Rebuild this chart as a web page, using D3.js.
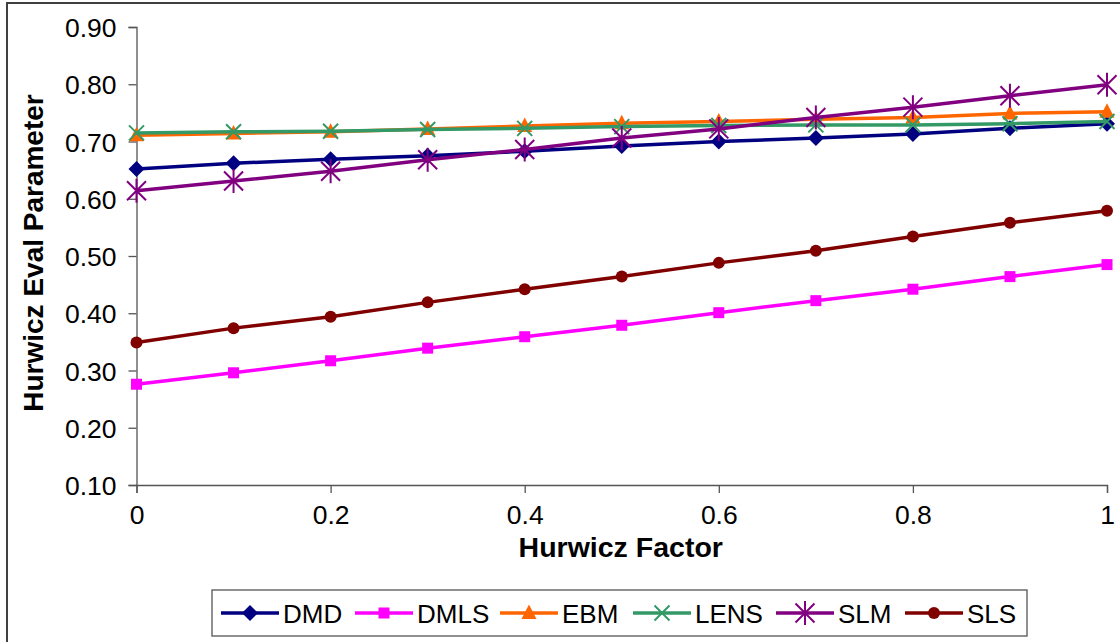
<!DOCTYPE html>
<html>
<head>
<meta charset="utf-8">
<script src="https://cdn.jsdelivr.net/npm/d3@7"></script>
<style>
  body { margin: 0; background: #fff; }
  svg { display: block; font-family: "Liberation Sans", Arial, Helvetica, sans-serif; }
</style>
</head>
<body>
<div class="chart"></div>
<script>
// data
const hurwiczFactor = [0, 0.1, 0.2, 0.3, 0.4, 0.5, 0.6, 0.7, 0.8, 0.9, 1];
const xTicks = [0, 0.2, 0.4, 0.6, 0.8, 1];
const xTickLabels = ["0", "0.2", "0.4", "0.6", "0.8", "1"];
const yTicks = [0.1, 0.2, 0.3, 0.4, 0.5, 0.6, 0.7, 0.8, 0.9];

const DMD  = [0.652, 0.662, 0.669, 0.675, 0.683, 0.692, 0.700, 0.706, 0.713, 0.723, 0.731];
const DMLS = [0.276, 0.296, 0.317, 0.339, 0.359, 0.379, 0.401, 0.422, 0.442, 0.464, 0.485];
const EBM  = [0.711, 0.714, 0.717, 0.722, 0.727, 0.732, 0.735, 0.739, 0.742, 0.749, 0.752];
const LENS = [0.715, 0.717, 0.718, 0.721, 0.723, 0.726, 0.728, 0.729, 0.729, 0.731, 0.735];
const SLM  = [0.614, 0.631, 0.648, 0.668, 0.686, 0.706, 0.722, 0.742, 0.760, 0.780, 0.799];
const SLS  = [0.349, 0.374, 0.394, 0.419, 0.442, 0.464, 0.488, 0.509, 0.534, 0.558, 0.579];

const seriesNames = ["DMD", "DMLS", "EBM", "LENS", "SLM", "SLS"];
const seriesValues = [DMD, DMLS, EBM, LENS, SLM, SLS];
const seriesColors = ["#000080", "#ff00ff", "#ff6600", "#339966", "#800080", "#800000"];
const seriesMarkers = ["diamond", "square", "triangle", "x", "star", "circle"];

const chartW = 1120, chartH = 642;
const plotLeft = 136.5, plotRight = 1107, plotTop = 27, plotBottom = 485;

const svg = d3.select(".chart").append("svg")
  .attr("width", chartW)
  .attr("height", chartH);

// outer frame
svg.append("rect")
  .attr("x", 7).attr("y", 3)
  .attr("width", 1300).attr("height", 800)
  .attr("fill", "none")
  .attr("stroke", "#404040")
  .attr("stroke-width", 2);

const xScale = d3.scaleLinear().domain([0, 1]).range([plotLeft, plotRight]);
const yScale = d3.scaleLinear().domain([0.1, 0.9]).range([plotBottom, plotTop]);

// axes
const gY = svg.append("g")
  .attr("transform", "translate(" + plotLeft + ",0)")
  .call(d3.axisLeft(yScale).tickValues(yTicks).tickFormat(d3.format(".2f")).tickSizeOuter(0).tickSize(8).tickPadding(12));
const gX = svg.append("g")
  .attr("transform", "translate(0," + plotBottom + ")")
  .call(d3.axisBottom(xScale).tickValues(xTicks).tickFormat((d, i) => xTickLabels[i]).tickSizeOuter(0).tickSize(8).tickPadding(12));

[gX, gY].forEach(g => {
  g.select(".domain").attr("stroke", "#555").attr("stroke-width", 1.3);
  g.selectAll(".tick line").attr("stroke", "#555").attr("stroke-width", 1.3);
  g.selectAll(".tick text")
    .attr("fill", "#000")
    .style("font-size", "26.5px")
    .style("font-family", "'Liberation Sans', Arial, sans-serif");
});
gY.selectAll(".tick text").attr("dy", "0.36em");
gX.selectAll(".tick text").attr("dy", "0.72em");

// axis titles
svg.append("text")
  .attr("x", (plotLeft + plotRight) / 2 - 1)
  .attr("y", 557)
  .attr("text-anchor", "middle")
  .style("font-size", "28.5px")
  .style("font-weight", "bold")
  .text("Hurwicz Factor");

svg.append("text")
  .attr("transform", "translate(43," + ((plotTop + plotBottom) / 2 - 3) + ") rotate(-90)")
  .attr("text-anchor", "middle")
  .style("font-size", "28px")
  .style("font-weight", "bold")
  .text("Hurwicz Eval Parameter");

// marker shapes
function marker(g, type, color) {
  if (type === "diamond") {
    g.append("path").attr("d", "M0,-8L8,0L0,8L-8,0Z").attr("fill", color);
  } else if (type === "square") {
    g.append("rect").attr("x", -5.5).attr("y", -5.5).attr("width", 11).attr("height", 11).attr("fill", color);
  } else if (type === "triangle") {
    g.append("path").attr("d", "M0,-8.5L7.5,6L-7.5,6Z").attr("fill", color);
  } else if (type === "x") {
    g.append("path").attr("d", "M-7.5,-7.5L7.5,7.5M-7.5,7.5L7.5,-7.5").attr("stroke", color).attr("stroke-width", 2).attr("fill", "none");
  } else if (type === "star") {
    g.append("path").attr("d", "M-9.5,-9.5L9.5,9.5M-9.5,9.5L9.5,-9.5M0,-12L0,12").attr("stroke", color).attr("stroke-width", 2).attr("fill", "none");
  } else if (type === "circle") {
    g.append("circle").attr("r", 6).attr("fill", color);
  }
}

const line = d3.line()
  .x((d, i) => xScale(hurwiczFactor[i]))
  .y(d => yScale(d));

seriesValues.forEach((vals, s) => {
  const g = svg.append("g").attr("class", "series");
  g.append("path")
    .datum(vals)
    .attr("d", line)
    .attr("fill", "none")
    .attr("stroke", seriesColors[s])
    .attr("stroke-width", 3.5)
    .attr("stroke-linejoin", "round");
  g.selectAll(".pt")
    .data(vals)
    .enter()
    .append("g")
    .attr("class", "pt")
    .attr("transform", (d, i) => "translate(" + xScale(hurwiczFactor[i]) + "," + yScale(d) + ")")
    .each(function () { marker(d3.select(this), seriesMarkers[s], seriesColors[s]); });
});

// legend
svg.append("rect")
  .attr("x", 212).attr("y", 590)
  .attr("width", 815).attr("height", 46)
  .attr("fill", "#fff")
  .attr("stroke", "#555")
  .attr("stroke-width", 1.3);

const legendX = [221, 355, 500, 633, 776, 905];
seriesNames.forEach((name, s) => {
  const lg = svg.append("g").attr("transform", "translate(" + legendX[s] + ",613)");
  lg.append("line")
    .attr("x1", 0).attr("x2", 58)
    .attr("stroke", seriesColors[s])
    .attr("stroke-width", 3.5);
  const m = lg.append("g").attr("transform", "translate(29,0)");
  marker(m, seriesMarkers[s], seriesColors[s]);
  lg.append("text")
    .attr("x", 62)
    .attr("y", 9.5)
    .style("font-size", "26px")
    .text(name);
});
</script>
</body>
</html>
